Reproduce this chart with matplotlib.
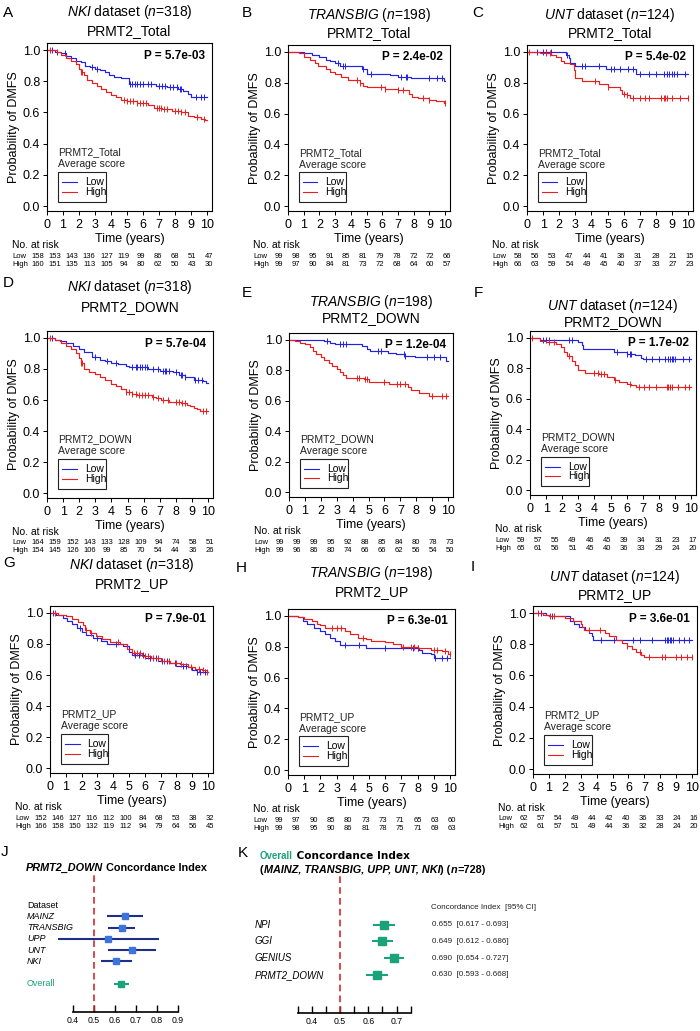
import numpy as np
import matplotlib
matplotlib.use("Agg")
import matplotlib.pyplot as plt
from matplotlib.patches import Rectangle
from matplotlib.transforms import blended_transform_factory

plt.rcParams['font.family'] = ['Liberation Sans', 'DejaVu Sans']
plt.rcParams['mathtext.fontset'] = 'custom'
plt.rcParams['mathtext.rm'] = 'Liberation Sans'
plt.rcParams['mathtext.it'] = 'Liberation Sans:italic'
plt.rcParams['mathtext.bf'] = 'Liberation Sans:bold'

W, H = 700, 1031
BLUE = '#2222e6'
RED = '#ee1c1c'
NAVY = '#1f2f86'
BOXBLUE = '#3c74dc'
GREEN = '#1aa37a'

# ---------------- Kaplan-Meier curves (event times, survival after event, censor times) ----------------
# A: NKI, PRMT2_Total
a_low_t = [0.5, 0.9, 1.2, 1.5, 1.8, 2.1, 2.4, 2.7, 3.0, 3.3, 3.6, 3.9, 4.2, 4.6, 5.1, 6.8, 7.5, 8.2, 8.5, 8.8, 9.0]
a_low_s = [0.99, 0.98, 0.96, 0.95, 0.93, 0.92, 0.90, 0.89, 0.88, 0.87, 0.86, 0.84, 0.83, 0.82, 0.78, 0.77, 0.76, 0.75, 0.74, 0.72, 0.70]
a_low_c = [0.3, 0.6, 1.1, 2.8, 3.1, 5.2, 5.3, 5.5, 5.6, 5.8, 6.0, 6.3, 6.5, 7.0, 7.2, 7.4, 7.7, 7.9, 8.1, 8.3, 8.4, 9.3, 9.6, 9.8]
a_high_t = [0.6, 0.9, 1.2, 1.5, 1.8, 2.0, 2.1, 2.3, 2.5, 2.8, 3.1, 3.4, 3.7, 4.0, 4.3, 4.6, 5.0, 5.6, 6.3, 6.7, 7.2, 7.8, 8.4, 8.8, 9.2, 9.6, 9.9]
a_high_s = [0.99, 0.97, 0.95, 0.93, 0.91, 0.88, 0.86, 0.84, 0.81, 0.79, 0.77, 0.75, 0.73, 0.71, 0.70, 0.68, 0.67, 0.66, 0.65, 0.63, 0.62, 0.61, 0.60, 0.58, 0.57, 0.56, 0.55]
a_high_c = [0.2, 2.1, 2.2, 4.8, 5.0, 5.2, 5.4, 5.6, 5.8, 6.0, 6.2, 6.9, 7.0, 7.1, 7.3, 7.5, 8.0, 8.2, 8.4, 8.6, 9.4, 9.8]

# B: TRANSBIG, PRMT2_Total
b_low_t = [1.0, 1.5, 2.0, 2.4, 2.7, 3.0, 3.3, 4.7, 5.0, 6.5, 7.0, 7.8, 9.9]
b_low_s = [0.99, 0.98, 0.97, 0.95, 0.94, 0.93, 0.91, 0.89, 0.86, 0.85, 0.84, 0.83, 0.81]
b_low_c = [3.2, 3.5, 3.6, 4.8, 5.3, 7.2, 7.5, 7.6, 9.0, 9.5, 9.8]
b_high_t = [0.7, 1.0, 1.4, 1.7, 1.9, 2.4, 2.7, 3.0, 3.4, 3.8, 4.6, 4.8, 5.0, 6.2, 7.0, 7.7, 7.9, 8.3, 9.0, 9.4, 9.9]
b_high_s = [0.99, 0.97, 0.95, 0.93, 0.91, 0.89, 0.87, 0.86, 0.84, 0.82, 0.80, 0.78, 0.77, 0.76, 0.75, 0.73, 0.71, 0.70, 0.69, 0.68, 0.67]
b_high_c = [4.4, 4.6, 5.9, 6.2, 7.0, 7.3, 8.6, 9.0, 10.0]

# C: UNT, PRMT2_Total
c_low_t = [2.4, 2.6, 2.7, 3.0, 4.9, 6.8]
c_low_s = [0.98, 0.96, 0.93, 0.91, 0.89, 0.86]
c_low_c = [0.6, 1.0, 1.2, 1.5, 2.5, 3.4, 3.6, 4.5, 5.2, 5.4, 5.8, 6.3, 6.6, 7.0, 7.6, 8.0, 8.5, 8.7, 8.8, 9.0, 9.1, 9.3, 9.8]
c_high_t = [0.8, 1.5, 1.8, 2.1, 2.3, 2.7, 2.9, 3.0, 3.4, 4.5, 5.0, 5.8, 5.9, 6.2, 6.4]
c_high_s = [0.99, 0.98, 0.97, 0.94, 0.93, 0.92, 0.88, 0.83, 0.81, 0.79, 0.77, 0.75, 0.73, 0.72, 0.70]
c_high_c = [0.1, 1.2, 1.4, 4.2, 5.0, 6.0, 6.2, 6.6, 7.0, 7.3, 7.6, 8.3, 8.5, 8.6, 8.7, 9.0, 9.5, 10.0]

# D: NKI, PRMT2_DOWN
d_low_t = [0.5, 0.8, 1.2, 1.6, 2.0, 2.3, 2.8, 3.3, 3.6, 4.0, 4.4, 4.9, 5.1, 6.3, 7.0, 7.8, 8.2, 8.6, 9.1, 9.7, 9.9]
d_low_s = [0.99, 0.98, 0.97, 0.95, 0.93, 0.91, 0.88, 0.86, 0.85, 0.84, 0.83, 0.82, 0.81, 0.80, 0.79, 0.78, 0.76, 0.75, 0.73, 0.72, 0.71]
d_low_c = [0.3, 3.0, 3.7, 4.3, 5.3, 5.5, 5.6, 5.8, 5.9, 6.1, 6.2, 6.6, 6.9, 7.2, 7.3, 7.4, 7.6, 8.0, 8.3, 8.4, 8.6, 9.2, 9.4, 9.6]
d_high_t = [0.5, 0.9, 1.2, 1.5, 1.8, 2.0, 2.1, 2.3, 2.6, 3.0, 3.3, 3.6, 4.0, 4.3, 4.6, 4.9, 5.3, 5.6, 6.5, 6.8, 7.1, 7.6, 8.3, 8.7, 8.9, 9.1, 9.3, 9.5]
d_high_s = [0.99, 0.97, 0.95, 0.93, 0.90, 0.87, 0.84, 0.80, 0.78, 0.77, 0.75, 0.73, 0.70, 0.69, 0.67, 0.65, 0.64, 0.63, 0.62, 0.61, 0.60, 0.59, 0.58, 0.57, 0.56, 0.55, 0.54, 0.53]
d_high_c = [0.2, 2.1, 2.2, 4.9, 5.1, 5.3, 5.5, 5.7, 5.9, 6.1, 6.3, 6.6, 6.9, 7.2, 7.5, 8.0, 8.2, 8.4, 8.6, 9.7, 9.9]

# E: TRANSBIG, PRMT2_DOWN
e_low_t = [2.2, 2.4, 2.6, 2.9, 4.6, 4.9, 5.1, 6.2, 6.7, 7.3, 7.9, 9.9]
e_low_s = [0.995, 0.99, 0.98, 0.975, 0.96, 0.94, 0.925, 0.915, 0.905, 0.895, 0.885, 0.86]
e_low_c = [2.4, 3.2, 3.4, 3.6, 5.6, 5.8, 7.2, 7.3, 8.7, 9.1, 9.5]
e_high_t = [0.4, 0.7, 1.0, 1.3, 1.5, 1.7, 2.0, 2.2, 2.5, 2.7, 3.0, 3.2, 3.4, 3.6, 4.7, 5.0, 6.3, 7.5, 7.7, 8.2, 8.8]
e_high_s = [0.99, 0.98, 0.97, 0.95, 0.93, 0.91, 0.89, 0.87, 0.85, 0.83, 0.81, 0.79, 0.77, 0.75, 0.74, 0.72, 0.71, 0.69, 0.67, 0.65, 0.63]
e_high_c = [4.3, 4.4, 4.8, 4.9, 6.0, 6.8, 7.0, 7.3, 9.0, 9.6, 9.9]

# F: UNT, PRMT2_DOWN
f_low_t = [0.6, 3.0, 3.2, 3.3, 5.2, 6.0, 6.5, 6.9, 7.0]
f_low_s = [0.985, 0.975, 0.955, 0.93, 0.91, 0.895, 0.885, 0.87, 0.86]
f_low_c = [0.8, 1.0, 1.2, 2.4, 2.6, 5.4, 6.0, 6.2, 6.3, 7.2, 7.6, 8.0, 8.4, 8.6, 8.7, 8.8, 8.9, 9.0, 9.5, 9.9]
f_high_t = [0.6, 1.0, 1.6, 1.9, 2.1, 2.3, 2.6, 2.8, 3.0, 3.4, 4.3, 4.8, 5.2, 5.5, 6.0, 6.3, 6.6]
f_high_s = [0.98, 0.97, 0.96, 0.94, 0.91, 0.88, 0.85, 0.82, 0.79, 0.77, 0.76, 0.74, 0.72, 0.71, 0.70, 0.69, 0.68]
f_high_c = [0.1, 1.2, 1.5, 2.4, 4.0, 4.2, 4.4, 4.6, 5.3, 6.2, 6.8, 7.1, 7.4, 7.8, 8.5, 8.6, 8.7, 8.8, 9.2, 9.6, 9.9]

# G: NKI, PRMT2_UP
g_low_t = [0.4, 0.8, 1.1, 1.4, 1.7, 2.0, 2.3, 2.7, 3.2, 3.6, 4.6, 5.0, 5.2, 6.0, 6.8, 7.5, 8.0, 8.7, 9.0, 9.3]
g_low_s = [0.99, 0.97, 0.95, 0.93, 0.90, 0.88, 0.86, 0.84, 0.82, 0.80, 0.79, 0.75, 0.73, 0.71, 0.69, 0.68, 0.66, 0.65, 0.63, 0.62]
g_low_c = [0.2, 1.9, 3.0, 4.2, 5.4, 5.6, 5.9, 6.3, 6.7, 7.1, 7.4, 7.9, 8.4, 8.6, 9.3, 9.5, 9.8]
g_high_t = [0.5, 1.0, 1.4, 1.8, 2.1, 2.2, 2.5, 2.9, 3.3, 3.8, 4.4, 4.9, 5.2, 5.8, 6.4, 7.0, 7.6, 8.2, 8.7, 9.2, 9.6, 9.9]
g_high_s = [0.99, 0.98, 0.96, 0.94, 0.92, 0.89, 0.87, 0.85, 0.83, 0.81, 0.80, 0.77, 0.74, 0.72, 0.71, 0.69, 0.68, 0.67, 0.65, 0.64, 0.63, 0.62]
g_high_c = [0.3, 2.3, 2.6, 4.3, 5.3, 5.5, 5.7, 6.0, 6.2, 6.5, 6.8, 7.2, 7.5, 8.0, 8.3, 8.9, 9.4, 9.7, 9.9]

# H: TRANSBIG, PRMT2_UP
h_low_t = [0.6, 0.9, 1.2, 1.6, 2.0, 2.3, 2.6, 2.9, 3.2, 4.8, 8.1, 8.3, 8.8, 9.0]
h_low_s = [0.99, 0.97, 0.95, 0.92, 0.90, 0.88, 0.86, 0.84, 0.81, 0.79, 0.78, 0.76, 0.75, 0.73]
h_low_c = [3.5, 4.4, 6.0, 7.7, 8.0, 9.1, 9.5, 9.8]
h_high_t = [0.6, 1.0, 1.5, 1.8, 2.0, 2.3, 3.5, 3.8, 4.3, 4.8, 5.1, 6.0, 6.5, 7.0, 8.0, 8.8, 9.5, 9.9]
h_high_s = [0.99, 0.98, 0.97, 0.95, 0.94, 0.92, 0.90, 0.88, 0.86, 0.85, 0.84, 0.83, 0.82, 0.80, 0.79, 0.78, 0.77, 0.75]
h_high_c = [2.7, 3.0, 3.3, 4.6, 7.1, 7.6, 7.8, 8.0, 9.0, 9.2, 9.7, 10.0]

# I: UNT, PRMT2_UP
i_low_t = [0.8, 1.0, 2.3, 2.6, 2.9, 3.3, 3.5, 3.7, 3.8]
i_low_s = [0.99, 0.98, 0.95, 0.93, 0.91, 0.89, 0.87, 0.85, 0.83]
i_low_c = [0.5, 1.2, 4.3, 5.1, 6.3, 6.7, 7.5, 8.3, 8.4, 8.5, 8.6, 8.7, 8.8, 9.2, 9.5, 9.8]
i_high_t = [0.6, 1.0, 2.0, 2.5, 3.0, 3.1, 3.2, 4.5, 4.8, 5.2, 5.6, 5.9, 6.2, 6.5, 6.8, 7.0]
i_high_s = [0.99, 0.98, 0.97, 0.95, 0.93, 0.91, 0.89, 0.87, 0.85, 0.83, 0.81, 0.79, 0.77, 0.75, 0.73, 0.72]
i_high_c = [0.3, 1.1, 1.3, 3.5, 4.2, 5.9, 6.7, 7.3, 8.1, 8.3, 9.0, 9.3, 9.7, 10.0]

# ---------------- numbers at risk ----------------
a_risk_low = [158, 153, 143, 136, 127, 119, 99, 86, 68, 51, 47]
a_risk_high = [160, 151, 135, 113, 105, 94, 80, 62, 50, 43, 30]
b_risk_low = [99, 98, 95, 91, 85, 81, 79, 78, 72, 72, 66]
b_risk_high = [99, 97, 90, 84, 81, 73, 72, 68, 64, 60, 57]
c_risk_low = [58, 56, 53, 47, 44, 41, 36, 31, 28, 21, 15]
c_risk_high = [66, 63, 59, 54, 49, 45, 40, 37, 33, 27, 23]
d_risk_low = [164, 159, 152, 143, 133, 128, 109, 94, 74, 58, 51]
d_risk_high = [154, 145, 126, 106, 99, 85, 70, 54, 44, 36, 26]
e_risk_low = [99, 99, 99, 95, 92, 88, 85, 84, 80, 78, 73]
e_risk_high = [99, 96, 86, 80, 74, 66, 66, 62, 56, 54, 50]
f_risk_low = [59, 57, 55, 49, 46, 45, 39, 34, 31, 23, 17]
f_risk_high = [65, 61, 56, 51, 45, 40, 36, 33, 29, 24, 20]
g_risk_low = [152, 146, 127, 116, 112, 100, 84, 68, 53, 38, 32]
g_risk_high = [166, 158, 150, 132, 119, 112, 94, 79, 64, 56, 45]
h_risk_low = [99, 97, 90, 85, 80, 73, 73, 71, 65, 63, 60]
h_risk_high = [99, 98, 95, 90, 86, 81, 78, 75, 71, 69, 63]
i_risk_low = [62, 57, 54, 49, 44, 42, 40, 36, 33, 24, 16]
i_risk_high = [62, 61, 57, 51, 49, 44, 36, 32, 28, 24, 20]

p_values = ['5.7e-03', '2.4e-02', '5.4e-02', '5.7e-04', '1.2e-04', '1.7e-02', '7.9e-01', '6.3e-01', '3.6e-01']

# ---------------- concordance index ----------------
j_names = ['MAINZ', 'TRANSBIG', 'UPP', 'UNT', 'NKI']
j_ci = [0.648, 0.633, 0.565, 0.680, 0.607]
j_lo = [0.562, 0.567, 0.330, 0.565, 0.533]
j_hi = [0.733, 0.695, 0.808, 0.793, 0.680]
j_overall = [0.630, 0.593, 0.668]

k_names = ['NPI', 'GGI', 'GENIUS', 'PRMT2_DOWN']
k_ci = [0.655, 0.649, 0.690, 0.630]
k_lo = [0.617, 0.612, 0.654, 0.593]
k_hi = [0.693, 0.686, 0.727, 0.668]

# ---------------- figure ----------------
fig = plt.figure(figsize=(W / 100, H / 100), dpi=100)
ov = fig.add_axes([0, 0, 1, 1])
ov.set_xlim(0, W)
ov.set_ylim(H, 0)
ov.axis('off')


def px_rect(l, t, r, b):
    return [l / W, 1 - b / H, (r - l) / W, (b - t) / H]


def step_value(t_ev, s_ev, t):
    idx = np.searchsorted(t_ev, t, side='right') - 1
    s = np.asarray(s_ev, float)
    return np.where(idx >= 0, s[np.clip(idx, 0, None)], 1.0)


def km_panel(p):
    l, t, r, b = p['box']
    ax = fig.add_axes(px_rect(l, t, r, b))
    for te, se, ce, col in p['curves']:
        x = np.r_[0.0, te, 10.0]
        y = np.r_[1.0, se, se[-1]]
        ax.step(x, y, where='post', color=col, lw=0.85)
        ax.plot(ce, step_value(te, se, ce), ls='none', marker='|', ms=4,
                mew=0.7, color=col)
    ax.set_xlim(0, 10.31)
    ax.set_ylim(-0.032, 1.045)
    ax.set_xticks(range(11))
    ax.set_yticks(np.arange(0, 1.01, 0.2))
    ax.set_yticklabels(['%.1f' % v for v in np.arange(0, 1.01, 0.2)])
    ax.tick_params(labelsize=9, length=3, width=0.7, pad=1.8)
    ax.tick_params(axis='x', pad=2.5)
    for s in ax.spines.values():
        s.set_linewidth(0.8)
    ax.set_xlabel('Time (years)', fontsize=9, labelpad=2)
    ax.set_ylabel('Probability of DMFS', fontsize=9, labelpad=2)
    ax.text(0.955, 0.925, 'P = ' + p['p'], transform=ax.transAxes, ha='right',
            va='center', fontsize=8.5, weight='bold')
    # legend
    ax.text(0.067, 0.35, p['legend'], transform=ax.transAxes, fontsize=7.5,
            va='center', color='#222222')
    ax.text(0.067, 0.28, 'Average score', transform=ax.transAxes, fontsize=7.5,
            va='center', color='#222222')
    ax.add_patch(Rectangle((0.067, 0.054), 0.29, 0.18, transform=ax.transAxes,
                           fill=False, lw=0.8, ec='#222222'))
    for yy, col, lab in [(0.173, BLUE, 'Low'), (0.113, RED, 'High')]:
        ax.plot([0.091, 0.182], [yy, yy], transform=ax.transAxes, color=col, lw=0.8)
        ax.text(0.23, yy, lab, transform=ax.transAxes, fontsize=7.5, va='center')
    # titles and panel letter
    cx = (l + r) / 2
    ov.text(cx, p['ty'][0], p['title'], ha='center', va='center', fontsize=10)
    ov.text(cx, p['ty'][1], p['legend'], ha='center', va='center', fontsize=10)
    ov.text(p['letter_xy'][0], p['letter_xy'][1], p['letter'], ha='center',
            va='center', fontsize=11)
    # risk table
    ov.text(l - 35, b + 34, 'No. at risk', fontsize=7.5, va='center')
    ov.text(l - 35, b + 45, 'Low', fontsize=5.5, va='center')
    ov.text(l - 35, b + 53, 'High', fontsize=5.5, va='center')
    step = (r - l + 6) / 10
    for i in range(11):
        x = l - 9 + i * step
        ov.text(x, b + 45, str(p['risk'][0][i]), fontsize=5.5, ha='center', va='center')
        ov.text(x, b + 53, str(p['risk'][1][i]), fontsize=5.5, ha='center', va='center')


nki = r'$\it{NKI}$ dataset ($\it{n}$=318)'
tbg = r'$\it{TRANSBIG}$ ($\it{n}$=198)'
unt = r'$\it{UNT}$ dataset ($\it{n}$=124)'

panels = [
    dict(letter='A', letter_xy=(8, 13), box=(47, 43, 212, 211), ty=(12, 31), title=nki,
         legend='PRMT2_Total', p=p_values[0], risk=(a_risk_low, a_risk_high),
         curves=[(a_low_t, a_low_s, a_low_c, BLUE), (a_high_t, a_high_s, a_high_c, RED)]),
    dict(letter='B', letter_xy=(247, 13), box=(288, 45, 450, 211), ty=(15, 33), title=tbg,
         legend='PRMT2_Total', p=p_values[1], risk=(b_risk_low, b_risk_high),
         curves=[(b_low_t, b_low_s, b_low_c, BLUE), (b_high_t, b_high_s, b_high_c, RED)]),
    dict(letter='C', letter_xy=(478, 13), box=(527, 45, 693, 211), ty=(15, 33), title=unt,
         legend='PRMT2_Total', p=p_values[2], risk=(c_risk_low, c_risk_high),
         curves=[(c_low_t, c_low_s, c_low_c, BLUE), (c_high_t, c_high_s, c_high_c, RED)]),
    dict(letter='D', letter_xy=(8, 283), box=(47, 331, 213, 498), ty=(287, 307), title=nki,
         legend='PRMT2_DOWN', p=p_values[3], risk=(d_risk_low, d_risk_high),
         curves=[(d_low_t, d_low_s, d_low_c, BLUE), (d_high_t, d_high_s, d_high_c, RED)]),
    dict(letter='E', letter_xy=(247, 293), box=(289, 333, 453, 497), ty=(302, 318), title=tbg,
         legend='PRMT2_DOWN', p=p_values[4], risk=(e_risk_low, e_risk_high),
         curves=[(e_low_t, e_low_s, e_low_c, BLUE), (e_high_t, e_high_s, e_high_c, RED)]),
    dict(letter='F', letter_xy=(478, 293), box=(530, 331, 696, 495), ty=(306, 322), title=unt,
         legend='PRMT2_DOWN', p=p_values[5], risk=(f_risk_low, f_risk_high),
         curves=[(f_low_t, f_low_s, f_low_c, BLUE), (f_high_t, f_high_s, f_high_c, RED)]),
    dict(letter='G', letter_xy=(9, 563), box=(50, 606, 213, 773), ty=(565, 584), title=nki,
         legend='PRMT2_UP', p=p_values[6], risk=(g_risk_low, g_risk_high),
         curves=[(g_low_t, g_low_s, g_low_c, BLUE), (g_high_t, g_high_s, g_high_c, RED)]),
    dict(letter='H', letter_xy=(241, 568), box=(288, 609, 455, 775), ty=(573, 592), title=tbg,
         legend='PRMT2_UP', p=p_values[7], risk=(h_risk_low, h_risk_high),
         curves=[(h_low_t, h_low_s, h_low_c, BLUE), (h_high_t, h_high_s, h_high_c, RED)]),
    dict(letter='I', letter_xy=(473, 567), box=(533, 606, 697, 774), ty=(577, 595), title=unt,
         legend='PRMT2_UP', p=p_values[8], risk=(i_risk_low, i_risk_high),
         curves=[(i_low_t, i_low_s, i_low_c, BLUE), (i_high_t, i_high_s, i_high_c, RED)]),
]

for p in panels:
    km_panel(p)


def chain_text(x, y, parts, **common):
    # draw text pieces one after another on the overlay (pixel coordinates)
    s, kw = parts[0]
    prev = ov.text(x, y, s, va='center', **{**common, **kw})
    for s, kw in parts[1:]:
        prev = ov.annotate(s, xy=(1, 0), xycoords=prev, va='bottom', ha='left',
                           **{**common, **kw})
    return prev


# ---------------- J: PRMT2_DOWN concordance index ----------------
ov.text(5, 852, 'J', ha='center', va='center', fontsize=11)
chain_text(26, 868, [('PRMT2_DOWN', dict(style='italic')), (' Concordance Index', {})],
           fontsize=7.8, weight='bold')

axj = fig.add_axes(px_rect(20, 875, 190, 1012))
axj.set_xlim(0.4 - 53 / 210, 0.9 + 12 / 210)
axj.set_ylim(9.51, -2.67)
axj.patch.set_alpha(0)
axj.axvline(0.5, color='#d42a2a', lw=1.2, ls=(0, (4, 2.5)))
trj = blended_transform_factory(ov.transData, axj.transData)
axj.text(27, 0, 'Dataset', transform=trj, fontsize=6.5, va='center')
for k, (name, c, lo, hi) in enumerate(zip(j_names, j_ci, j_lo, j_hi), start=1):
    axj.plot([lo, hi], [k, k], color=NAVY, lw=1.5, solid_capstyle='butt')
    axj.plot(c, k, 's', color=BOXBLUE, ms=4.6, mec=BOXBLUE)
    axj.text(27, k, name, transform=trj, fontsize=6.5, style='italic', va='center')
axj.plot([j_overall[1], j_overall[2]], [7, 7], color=GREEN, lw=1.5, solid_capstyle='butt')
axj.plot(j_overall[0], 7, 's', color=GREEN, ms=4.4)
axj.text(27, 7, 'Overall', transform=trj, fontsize=6.5, color=GREEN, va='center')
for side in ['top', 'left', 'right']:
    axj.spines[side].set_visible(False)
axj.spines['bottom'].set_bounds(0.4, 0.9)
axj.spines['bottom'].set_linewidth(1.2)
axj.set_yticks([])
jt = np.arange(0.4, 0.91, 0.1)
axj.set_xticks(jt)
axj.set_xticklabels(['%.1f' % v for v in jt])
axj.tick_params(axis='x', direction='in', length=5, width=1.0, labelsize=6.3, pad=3)

# ---------------- K: overall concordance index ----------------
ov.text(243, 853, 'K', ha='center', va='center', fontsize=11)
chain_text(260, 856, [('Overall', dict(color=GREEN, fontsize=7)),
                      (' Concordance Index', dict(family='DejaVu Sans', fontsize=7.6))],
           weight='bold')
chain_text(260, 870, [('(', {}), ('MAINZ, TRANSBIG, UPP, UNT, NKI', dict(style='italic')),
                      (') (', {}), ('n', dict(style='italic')), ('=728)', {})],
           fontsize=7.8, weight='bold')

axk = fig.add_axes(px_rect(250, 876, 420, 1013))
axk.set_xlim(0.5 - 90 / 283, 0.5 + 80 / 283)
axk.set_ylim(6.27, -1.91)
axk.patch.set_alpha(0)
axk.axvline(0.5, color='#d42a2a', lw=1.2, ls=(0, (4, 2.5)))
trk = blended_transform_factory(ov.transData, axk.transData)
axk.text(431, 0, 'Concordance Index  [95% CI]', transform=trk, fontsize=5.8, va='center',
         color='#222222')
for k, (name, c, lo, hi) in enumerate(zip(k_names, k_ci, k_lo, k_hi), start=1):
    axk.plot([lo, hi], [k, k], color=GREEN, lw=1.5, solid_capstyle='butt')
    axk.plot(c, k, 's', color=GREEN, ms=5.6)
    axk.text(255, k, name, transform=trk, fontsize=7, style='italic', va='center')
    axk.text(432, k, '%.3f  [%.3f - %.3f]' % (c, lo, hi), transform=trk, fontsize=5.8,
             va='center', color='#222222')
for side in ['top', 'left', 'right']:
    axk.spines[side].set_visible(False)
axk.spines['bottom'].set_bounds(0.35, 0.75)
axk.spines['bottom'].set_linewidth(1.2)
axk.set_yticks([])
kt = np.arange(0.35, 0.751, 0.05)
axk.set_xticks(kt)
axk.set_xticklabels(['%.1f' % v if abs(v * 10 - round(v * 10)) < 1e-6 else '' for v in kt])
axk.tick_params(axis='x', direction='in', length=5, width=1.0, labelsize=6.3, pad=3)

fig.savefig('out.png', dpi=100)
